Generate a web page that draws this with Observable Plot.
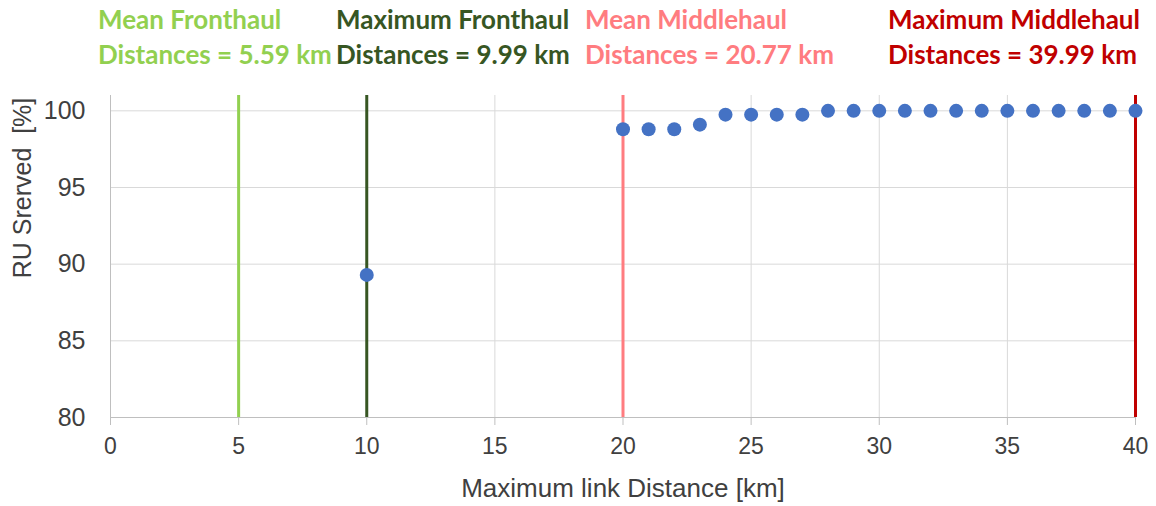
<!DOCTYPE html>
<html>
<head>
<meta charset="utf-8">
<script src="https://cdn.jsdelivr.net/npm/d3@7"></script>
<script src="https://cdn.jsdelivr.net/npm/@observablehq/plot@0.6"></script>
<style>
  body { margin: 0; background: #fff; }
  #wrap { position: relative; width: 1156px; height: 506px; overflow: hidden; }
  #wrap svg { position: absolute; left: 0; top: 0; }
  .ann { position: absolute; top: 2px; font-family: Lato, "Open Sans", sans-serif; font-weight: 700;
         font-size: 26px; line-height: 35px; white-space: nowrap; }
  #ylab { position: absolute; left: 22px; top: 188px; width: 0; height: 0; }
  #ylab span { position: absolute; left: 0; top: 0; transform: translate(-50%, -50%) rotate(-90deg);
               white-space: pre; font-family: 'Liberation Sans', Arial, sans-serif; font-size: 25px;
               color: #404040; line-height: 1; }
</style>
</head>
<body>
<div id="wrap"></div>
<script>
// ---- data ----
const distances = [10, 20, 21, 22, 23, 24, 25, 26, 27, 28, 29, 30, 31, 32, 33, 34, 35, 36, 37, 38, 39, 40];
const ruServed  = [89.3, 98.8, 98.8, 98.8, 99.1, 99.75, 99.75, 99.75, 99.75, 100, 100, 100, 100, 100, 100, 100, 100, 100, 100, 100, 100, 100];

const refNames  = ["Mean Fronthaul", "Maximum Fronthaul", "Mean Middlehaul", "Maximum Middlehaul"];
const refKm     = ["5.59", "9.99", "20.77", "39.99"];
const refLineX  = [5, 10, 20, 40];
const refColors = ["#92d050", "#375623", "#ff7c80", "#c00000"];

const xTicks = [0, 5, 10, 15, 20, 25, 30, 35, 40];
const yTicks = [80, 85, 90, 95, 100];
const xLabel = "Maximum link Distance [km]";
const yLabel = "RU Srerved  [%]";

// ---- build ----
const points = distances.map((d, i) => ({x: d, y: ruServed[i]}));
const refs = refLineX.map((x, i) => ({x, color: refColors[i]}));

const font = "'Liberation Sans', Arial, sans-serif";
const textColor = "#404040";

const chart = Plot.plot({
  width: 1156,
  height: 506,
  marginLeft: 110,
  marginRight: 21,
  marginTop: 95,
  marginBottom: 89,
  style: {fontFamily: font, color: textColor, background: "transparent"},
  x: {domain: [0, 40], label: null},
  y: {domain: [80, 101], label: null, axis: null},
  marks: [
    Plot.gridX(xTicks, {stroke: "#d9d9d9", strokeOpacity: 1}),
    Plot.gridY(yTicks, {stroke: "#d9d9d9", strokeOpacity: 1}),
    Plot.ruleX([0], {stroke: "#bfbfbf"}),
    Plot.ruleY([80], {stroke: "#bfbfbf"}),
    Plot.axisX(xTicks, {tickSize: 8, tickPadding: 12, stroke: "#bfbfbf", fill: textColor, fontSize: 23, label: null}),
    Plot.text(yTicks, {y: d => d, frameAnchor: "left", dx: -25, textAnchor: "end", lineAnchor: "middle", fontSize: 25, fill: textColor, text: d => String(d)}),
    Plot.ruleX(refs, {x: "x", stroke: "color", strokeWidth: 3}),
    Plot.dot(points, {x: "x", y: "y", r: 7, fill: "#4472c4", stroke: null}),
    Plot.text([xLabel], {frameAnchor: "bottom", dy: 71, lineAnchor: "middle", fontSize: 26, fill: textColor, text: d => d})
  ]
});

const wrap = document.getElementById("wrap");
wrap.appendChild(chart);

const yl = document.createElement("div");
yl.id = "ylab";
const ys = document.createElement("span");
ys.textContent = yLabel;
yl.appendChild(ys);
wrap.appendChild(yl);

const annLeft = [98, 336, 585, 888];
refNames.forEach((name, i) => {
  const div = document.createElement("div");
  div.className = "ann";
  div.style.left = annLeft[i] + "px";
  div.style.color = refColors[i];
  div.innerHTML = `${name}<br>Distances = ${refKm[i]} km`;
  wrap.appendChild(div);
});
</script>
</body>
</html>
